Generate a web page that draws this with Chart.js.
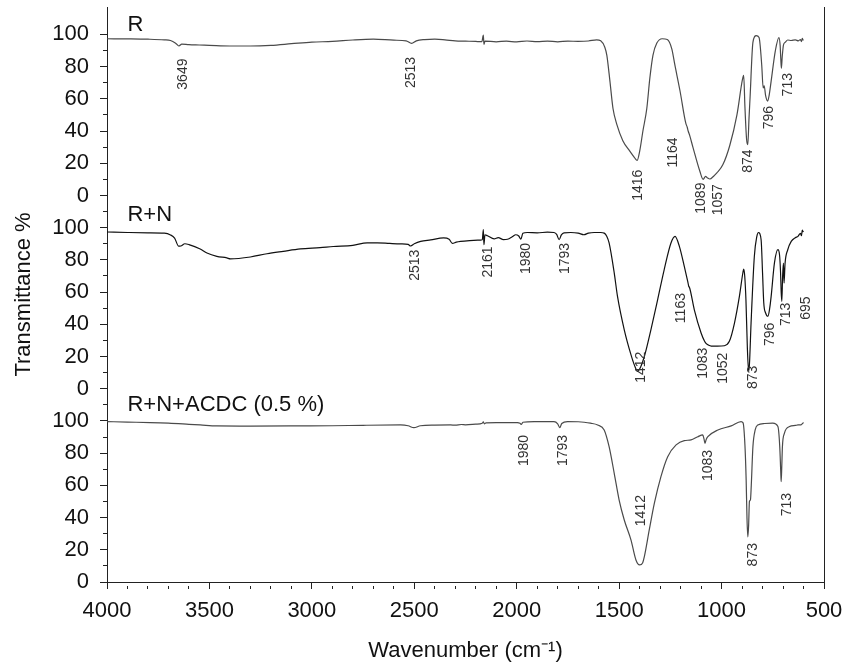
<!doctype html>
<html lang="en">
<head>
    <meta charset="utf-8">
    <script src="https://cdn.jsdelivr.net/npm/chart.js"></script>
    <style>
        body { margin: 0; background: #fff; }
        #wrap { width: 844px; height: 668px; }
    </style>
</head>
<body>
    <div id="wrap"><canvas id="myChart" width="844" height="668"></canvas></div>
    <script>
        // R
        const rWave = [4000, 3900, 3800, 3720, 3690, 3665, 3649, 3635, 3600, 3550, 3500, 3400, 3300, 3200, 3100, 3000, 2900, 2800, 2700, 2600,
            2540, 2513, 2490, 2450, 2400, 2350, 2300, 2250, 2200, 2170, 2163, 2160, 2155, 2100, 2050, 2000, 1950, 1900, 1850, 1800,
            1750, 1700, 1650, 1610, 1590, 1570, 1560, 1545, 1530, 1511, 1482, 1448, 1425, 1412, 1399, 1384, 1365, 1350, 1335, 1316,
            1290, 1265, 1243, 1228, 1203, 1175, 1168, 1163, 1155, 1140, 1106, 1090, 1078, 1070, 1057, 1040, 1023, 994, 960, 925,
            898, 892, 886, 878, 872, 866, 861, 847, 831, 817, 804, 797, 792, 785, 775, 768, 758, 738, 720, 714,
            711, 708, 704, 698, 690, 677, 660, 640, 625, 615, 610, 606, 602, 600];
        const rT = [97.3, 97.2, 97.0, 96.6, 96.2, 94.5, 92.8, 94.0, 93.6, 93.4, 93.2, 92.8, 92.8, 93.2, 94.2, 95.2, 95.6, 96.5, 97.0, 96.4,
            96.0, 94.4, 96.0, 96.8, 97.0, 96.6, 96.0, 95.8, 95.6, 95.5, 99.5, 93.8, 95.8, 95.4, 95.8, 95.3, 95.9, 95.5, 95.8, 95.4,
            95.8, 95.7, 95.9, 96.6, 96.0, 92.0, 87.0, 71.0, 54.0, 44.0, 34.0, 27.5, 23.5, 21.8, 28.0, 40.0, 54.0, 73.0, 87.0, 94.6,
            97.3, 96.8, 91.0, 81.0, 65.0, 45.0, 42.5, 40.0, 37.0, 30.0, 15.0, 10.0, 11.8, 11.0, 10.2, 11.8, 14.0, 19.0, 31.0, 50.0,
            72.0, 74.5, 55.0, 35.0, 31.5, 48.0, 60.5, 95.0, 99.2, 98.0, 81.0, 66.7, 68.0, 62.0, 58.6, 62.0, 71.0, 89.5, 98.0, 93.0,
            85.0, 79.0, 86.0, 93.4, 95.0, 96.5, 96.2, 96.6, 96.0, 96.8, 95.5, 97.5, 96.5, 96.8];

        // R+N
        const rnWave = [4000, 3900, 3800, 3720, 3690, 3670, 3650, 3640, 3620, 3600, 3545, 3512, 3464, 3415, 3398, 3300, 3219, 3140, 3056, 2960,
            2895, 2800, 2730, 2681, 2620, 2567, 2530, 2518, 2500, 2469, 2420, 2357, 2330, 2314, 2295, 2274, 2230, 2190, 2168, 2163,
            2160, 2155, 2143, 2110, 2090, 2065, 2045, 2020, 2005, 1990, 1980, 1970, 1948, 1900, 1850, 1818, 1805, 1793, 1782, 1769,
            1736, 1700, 1672, 1650, 1622, 1590, 1573, 1560, 1549, 1524, 1508, 1475, 1442, 1425, 1410, 1395, 1377, 1345, 1312, 1280,
            1247, 1227, 1206, 1182, 1165, 1160, 1157, 1133, 1100, 1083, 1076, 1060, 1051, 1020, 986, 962, 937, 913, 896, 892,
            887, 881, 874, 868, 864, 856, 840, 828, 820, 807, 800, 794, 785, 774, 765, 758, 742, 725, 717, 712,
            709, 706, 702, 698, 695, 690, 677, 660, 640, 627, 615, 610, 606, 603, 600];
        const rnT = [97.3, 97.0, 96.8, 96.6, 95.5, 93.5, 88.5, 88.6, 90.0, 89.5, 86.8, 84.3, 82.2, 81.2, 80.6, 81.8, 83.8, 85.3, 86.8, 87.6,
            88.3, 89.0, 90.6, 90.6, 90.2, 89.9, 89.6, 88.6, 90.0, 91.5, 92.4, 93.6, 92.8, 90.2, 91.0, 91.5, 92.0, 92.2, 92.5, 98.8,
            89.4, 95.6, 95.0, 93.0, 93.8, 92.6, 92.8, 94.5, 95.6, 94.8, 92.8, 96.5, 97.0, 96.8, 97.2, 97.0, 95.8, 92.5, 95.5, 96.8,
            97.0, 96.6, 95.6, 96.6, 97.0, 97.0, 96.6, 94.5, 90.5, 71.9, 57.3, 36.6, 21.0, 14.5, 10.8, 13.5, 20.0, 36.6, 55.3, 74.0,
            90.5, 94.6, 88.4, 76.0, 66.5, 63.5, 63.0, 49.0, 34.6, 29.5, 28.2, 26.8, 26.5, 26.4, 26.7, 29.4, 40.8, 57.3, 72.0, 74.3,
            70.0, 55.0, 25.0, 11.0, 15.0, 40.8, 82.2, 94.5, 97.0, 92.5, 72.0, 53.2, 47.0, 45.0, 50.0, 57.3, 78.0, 86.3, 83.0, 72.0,
            60.0, 54.2, 70.0, 78.0, 65.6, 78.0, 86.3, 91.5, 93.8, 94.6, 96.5, 95.0, 98.5, 97.5, 98.0];

        // R+N+ACDC (0.5 %)
        const acdcWave = [4000, 3900, 3790, 3700, 3600, 3545, 3464, 3300, 3056, 2900, 2750, 2567, 2530, 2502, 2470, 2400, 2323, 2300, 2270, 2250,
            2200, 2168, 2163, 2158, 2150, 2100, 2050, 1997, 1984, 1977, 1970, 1915, 1818, 1800, 1790, 1780, 1752, 1700, 1671, 1640,
            1605, 1573, 1549, 1524, 1500, 1475, 1442, 1418, 1400, 1385, 1377, 1353, 1328, 1296, 1263, 1222, 1182, 1149, 1116, 1092,
            1086, 1081, 1075, 1067, 1018, 953, 905, 895, 886, 880, 876, 872, 868, 864, 859, 855, 847, 836, 823, 790,
            750, 725, 716, 711, 709, 706, 703, 693, 668, 640, 627, 612, 600];
        const acdcT = [99.6, 99.3, 99.0, 98.6, 97.9, 97.5, 96.9, 96.8, 96.9, 97.0, 97.3, 97.5, 97.0, 95.8, 97.0, 97.4, 97.5, 97.4, 97.8, 97.6,
            98.0, 98.6, 99.4, 98.2, 98.8, 99.0, 99.0, 99.0, 98.6, 97.8, 99.2, 99.6, 99.6, 98.2, 95.8, 98.4, 99.6, 99.5, 99.2, 98.6,
            97.5, 94.4, 84.0, 67.5, 50.9, 38.5, 26.0, 13.7, 10.6, 12.0, 15.7, 32.3, 48.9, 65.4, 77.8, 85.1, 87.8, 88.2, 90.2, 91.3,
            89.0, 86.1, 88.5, 90.2, 94.4, 96.9, 99.6, 98.8, 85.0, 63.4, 40.0, 28.0, 35.0, 50.0, 51.0, 60.0, 84.0, 94.4, 97.5, 98.4,
            98.6, 96.5, 84.0, 68.0, 62.3, 72.0, 84.0, 92.4, 96.5, 97.2, 97.5, 97.6, 99.0];

        // peak labels and where they sit (wavenumber, transmittance of the top end)
        const rPeaks = [3649, 2513, 1416, 1164, 1089, 1057, 874, 796, 713];
        const rPeakX = [3629, 2514, 1407, 1236, 1099, 1019, 868, 770, 676];
        const rPeakY = [85, 86, 16, 36, 8, 7, 28.6, 55.6, 76];
        const rnPeaks = [2513, 2161, 1980, 1793, 1163, 1412, 1083, 1052, 873, 796, 713, 695];
        const rnPeakX = [2498, 2139, 1952, 1765, 1197, 1391, 1090, 994, 844, 763, 685, 588];
        const rnPeakY = [86.3, 88.4, 90.5, 90.5, 59.4, 23, 25.5, 22.4, 14.3, 41, 53.4, 57.3];
        const acdcPeaks = [1980, 1793, 1412, 1083, 873, 713];
        const acdcPeakX = [1964, 1773, 1394, 1064, 848, 680];
        const acdcPeakY = [91.3, 91.3, 54, 82, 24.2, 55.3];

        const yTicksMajor = [0, 20, 40, 60, 80, 100];
        const xTicksMajor = [4000, 3500, 3000, 2500, 2000, 1500, 1000, 500];

        const FONT = '"Liberation Sans", Arial, sans-serif';

        const panels = [
            { name: 'R', offset: 240, nameY: 102, wave: rWave, t: rT, color: '#4a4a4a', peaks: rPeaks, px: rPeakX, py: rPeakY },
            { name: 'R+N', offset: 120, nameY: 104, wave: rnWave, t: rnT, color: '#111111', peaks: rnPeaks, px: rnPeakX, py: rnPeakY },
            { name: 'R+N+ACDC (0.5 %)', offset: 0, nameY: 106, wave: acdcWave, t: acdcT, color: '#4a4a4a', peaks: acdcPeaks, px: acdcPeakX, py: acdcPeakY }
        ];

        const annotate = {
            id: 'annotate',
            afterDatasetsDraw(chart) {
                const ctx = chart.ctx;
                const x = chart.scales.x;
                const y = chart.scales.y;
                ctx.save();
                ctx.fillStyle = '#111';
                ctx.font = '22px ' + FONT;
                ctx.textAlign = 'left';
                ctx.textBaseline = 'alphabetic';
                for (const p of panels) {
                    ctx.fillText(p.name, x.getPixelForValue(3900), y.getPixelForValue(p.offset + p.nameY));
                }
                ctx.font = '14px ' + FONT;
                ctx.fillStyle = '#333';
                ctx.textAlign = 'right';
                ctx.textBaseline = 'middle';
                for (const p of panels) {
                    p.peaks.forEach((pk, i) => {
                        ctx.save();
                        ctx.translate(x.getPixelForValue(p.px[i]), y.getPixelForValue(p.offset + p.py[i]));
                        ctx.rotate(-Math.PI / 2);
                        ctx.fillText(String(pk), 0, 0);
                        ctx.restore();
                    });
                }
                ctx.restore();
            }
        };

        const isMinorY = v => {
            const m = v % 120;
            return !(m <= 100 && yTicksMajor.includes(m));
        };

        const config = {
            type: 'line',
            data: {
                datasets: panels.map(p => ({
                    label: p.name,
                    data: p.wave.map((w, i) => ({ x: w, y: p.t[i] + p.offset })),
                    borderColor: p.color,
                    borderWidth: 1.2,
                    pointRadius: 0,
                    cubicInterpolationMode: 'monotone',
                    fill: false
                }))
            },
            plugins: [annotate],
            options: {
                responsive: false,
                animation: false,
                layout: { padding: { top: 7, right: 20, left: 0, bottom: 0 } },
                plugins: { legend: { display: false }, tooltip: { enabled: false } },
                scales: {
                    x: {
                        type: 'linear',
                        reverse: true,
                        min: 500,
                        max: 4000,
                        afterFit: s => { s.height = 86; s.paddingLeft = 0; s.paddingRight = 0; },
                        afterBuildTicks: s => { s.ticks = s.ticks.filter(t => t.value % 100 === 0); },
                        border: { display: true, color: '#222', width: 1 },
                        grid: {
                            drawOnChartArea: false,
                            drawTicks: true,
                            tickLength: 7,
                            tickColor: '#222',
                            tickBorderDash: c => (xTicksMajor.includes(c.tick.value) ? [] : [4, 3]),
                            tickBorderDashOffset: c => (xTicksMajor.includes(c.tick.value) ? 0 : 4)
                        },
                        ticks: {
                            stepSize: 100,
                            autoSkip: false,
                            maxRotation: 0,
                            padding: 9,
                            color: '#111',
                            font: { family: FONT, size: 22 },
                            callback: v => (xTicksMajor.includes(v) ? String(v) : '')
                        },
                        title: {
                            display: true,
                            text: 'Wavenumber (cm\u207B\u00B9)',
                            color: '#111',
                            font: { family: FONT, size: 22 },
                            padding: { top: 0, bottom: 4 }
                        }
                    },
                    y: {
                        type: 'linear',
                        min: 0,
                        max: 357,
                        afterFit: s => { s.width = 107; s.paddingTop = 0; s.paddingBottom = 0; },
                        afterBuildTicks: s => { s.ticks = s.ticks.filter(t => t.value % 10 === 0); },
                        border: { display: true, color: '#222', width: 1 },
                        grid: {
                            drawOnChartArea: false,
                            drawTicks: true,
                            tickLength: 7,
                            tickColor: '#222',
                            tickBorderDash: c => (isMinorY(c.tick.value) ? [4, 3] : []),
                            tickBorderDashOffset: c => (isMinorY(c.tick.value) ? 4 : 0)
                        },
                        ticks: {
                            stepSize: 10,
                            autoSkip: false,
                            padding: 11,
                            color: '#111',
                            font: { family: FONT, size: 22 },
                            callback: v => (isMinorY(v) ? '' : String(v % 120))
                        },
                        title: {
                            display: true,
                            text: 'Transmittance %',
                            color: '#111',
                            font: { family: FONT, size: 22 },
                            padding: { top: 11, bottom: 0 }
                        }
                    },
                    yRight: {
                        type: 'linear',
                        position: 'right',
                        min: 0,
                        max: 357,
                        afterFit: s => { s.width = 0; s.paddingTop = 0; s.paddingBottom = 0; },
                        border: { display: true, color: '#222', width: 1 },
                        grid: { drawOnChartArea: false, drawTicks: false },
                        ticks: { display: false }
                    }
                }
            }
        };

        const myChart = new Chart(document.getElementById('myChart'), config);
    </script>
</body>
</html>
